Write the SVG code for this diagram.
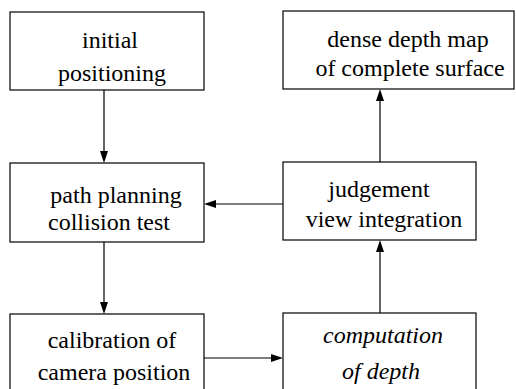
<svg xmlns="http://www.w3.org/2000/svg" width="516" height="389" viewBox="0 0 516 389">
<g id="connectors" stroke="#000" stroke-width="1.2">
<line x1="104" y1="90" x2="104" y2="152"/>
<polygon points="100,151 108,151 104,163" fill="#000" stroke="none"/>
<line x1="104" y1="242" x2="104" y2="303"/>
<polygon points="100,302 108,302 104,314" fill="#000" stroke="none"/>
<line x1="283" y1="204" x2="215" y2="204"/>
<polygon points="216,200 216,208 204,204" fill="#000" stroke="none"/>
<line x1="204" y1="358" x2="272" y2="358"/>
<polygon points="271,354 271,362 283,358" fill="#000" stroke="none"/>
<line x1="380" y1="313" x2="380" y2="251"/>
<polygon points="376,252 384,252 380,240" fill="#000" stroke="none"/>
<line x1="380" y1="162" x2="380" y2="100"/>
<polygon points="376,101 384,101 380,89" fill="#000" stroke="none"/>
</g>
<g id="initial-positioning">
<rect x="10" y="12" width="194" height="78" fill="#fff" stroke="#000" stroke-width="1.2"/>
<text font-family="Liberation Serif, serif" font-size="24" text-anchor="middle" x="110" y="48">initial</text>
<text font-family="Liberation Serif, serif" font-size="24" text-anchor="middle" x="112" y="81">positioning</text>
</g>
<g id="dense-depth-map">
<rect x="283" y="11" width="231" height="78" fill="#fff" stroke="#000" stroke-width="1.2"/>
<text font-family="Liberation Serif, serif" font-size="24" text-anchor="middle" x="408" y="47">dense depth map</text>
<text font-family="Liberation Serif, serif" font-size="24" text-anchor="middle" x="410" y="76">of complete surface</text>
</g>
<g id="path-planning">
<rect x="10" y="163" width="194" height="79" fill="#fff" stroke="#000" stroke-width="1.2"/>
<text font-family="Liberation Serif, serif" font-size="24" text-anchor="middle" x="116" y="203">path planning</text>
<text font-family="Liberation Serif, serif" font-size="24" text-anchor="middle" x="109" y="230">collision test</text>
</g>
<g id="judgement">
<rect x="283" y="162" width="193" height="78" fill="#fff" stroke="#000" stroke-width="1.2"/>
<text font-family="Liberation Serif, serif" font-size="24" text-anchor="middle" x="379" y="197">judgement</text>
<text font-family="Liberation Serif, serif" font-size="24" text-anchor="middle" x="384" y="227">view integration</text>
</g>
<g id="calibration">
<rect x="10" y="314" width="194" height="90" fill="#fff" stroke="#000" stroke-width="1.2"/>
<text font-family="Liberation Serif, serif" font-size="24" text-anchor="middle" x="112" y="348">calibration of</text>
<text font-family="Liberation Serif, serif" font-size="24" text-anchor="middle" x="114" y="380">camera position</text>
</g>
<g id="computation">
<rect x="283" y="313" width="193" height="90" fill="#fff" stroke="#000" stroke-width="1.2"/>
<text font-family="Liberation Serif, serif" font-size="24" font-style="italic" text-anchor="middle" x="383" y="343">computation</text>
<text font-family="Liberation Serif, serif" font-size="24" font-style="italic" text-anchor="middle" x="381" y="379">of depth</text>
</g>
</svg>
